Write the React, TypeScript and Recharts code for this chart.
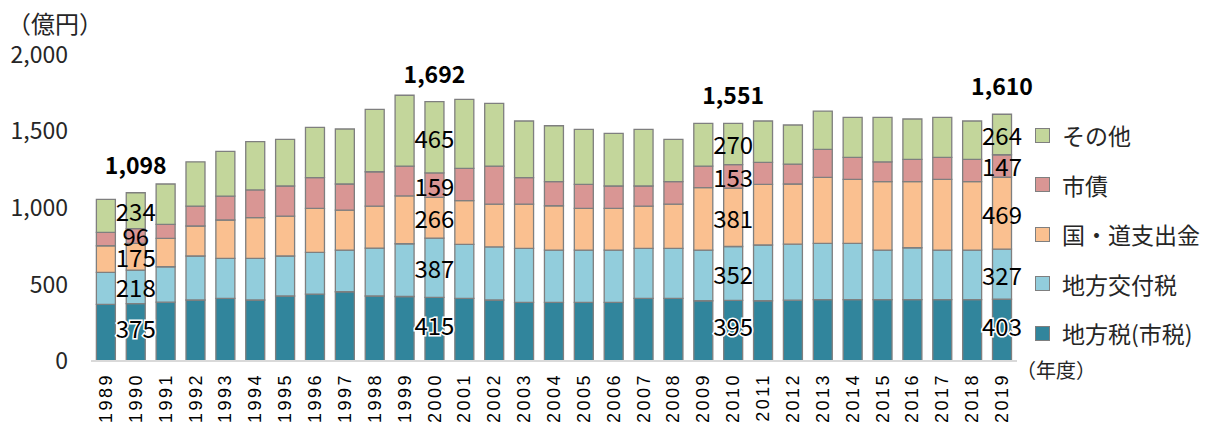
import { Bar, BarChart, LabelList, XAxis, YAxis } from "recharts";

const years = [
  "1989", "1990", "1991", "1992", "1993", "1994", "1995", "1996", "1997", "1998",
  "1999", "2000", "2001", "2002", "2003", "2004", "2005", "2006", "2007", "2008",
  "2009", "2010", "2011", "2012", "2013", "2014", "2015", "2016", "2017", "2018", "2019",
];

// 地方税(市税)
const localTax = [
  369, 375, 384, 398, 409, 398, 424, 437, 452, 424,
  421, 415, 409, 398, 382, 382, 382, 382, 409, 409,
  393, 395, 393, 397, 400, 400, 400, 400, 400, 400, 403,
];
// 地方交付税
const allocationTax = [
  209, 218, 231, 287, 261, 272, 261, 272, 272, 313,
  344, 387, 352, 347, 353, 342, 342, 342, 326, 326,
  331, 352, 364, 365, 367, 367, 324, 339, 324, 324, 327,
];
// 国・道支出金
const subsidies = [
  174, 175, 185, 196, 250, 265, 261, 287, 261, 274,
  312, 266, 285, 279, 289, 289, 272, 272, 276, 289,
  407, 381, 396, 393, 431, 418, 446, 431, 461, 446, 469,
];
// 市債
const bonds = [
  87, 96, 91, 130, 156, 181, 196, 200, 170, 224,
  195, 159, 211, 248, 172, 157, 157, 146, 131, 146,
  141, 153, 143, 130, 183, 144, 130, 146, 144, 146, 147,
];
// その他
const others = [
  216, 234, 264, 289, 292, 315, 304, 329, 359, 407,
  462, 465, 450, 409, 370, 365, 359, 343, 370, 276,
  279, 270, 270, 255, 250, 261, 290, 263, 261, 250, 264,
];

const labelYears = ["1990", "2000", "2010", "2019"];
const yTicks = [0, 500, 1000, 1500, 2000];

const series = [
  { key: "localTax", name: "地方税(市税)", color: "#31859C", values: localTax, halo: true },
  { key: "allocationTax", name: "地方交付税", color: "#92CDDC", values: allocationTax, halo: false },
  { key: "subsidies", name: "国・道支出金", color: "#FAC090", values: subsidies, halo: false },
  { key: "bonds", name: "市債", color: "#D99694", values: bonds, halo: false },
  { key: "others", name: "その他", color: "#C3D69B", values: others, halo: false },
];

const data = years.map((year, i) => ({
  year,
  localTax: localTax[i],
  allocationTax: allocationTax[i],
  subsidies: subsidies[i],
  bonds: bonds[i],
  others: others[i],
  total: localTax[i] + allocationTax[i] + subsidies[i] + bonds[i] + others[i],
}));

const FONT = "'Noto Sans CJK JP', 'Noto Sans', sans-serif";

function box(props: any) {
  const vb = props.viewBox || {};
  return {
    x: props.x ?? vb.x,
    y: props.y ?? vb.y,
    width: props.width ?? vb.width,
    height: props.height ?? vb.height,
  };
}

const segmentLabel = (values: number[], halo: boolean) => (props: any) => {
  const idx = props.index;
  if (!labelYears.includes(years[idx])) return null;
  const { x, y, width, height } = box(props);
  return (
    <text
      x={x + width / 2}
      y={y + height / 2 + (halo ? -5 : 0)}
      textAnchor="middle"
      dominantBaseline="central"
      fontFamily={FONT}
      fontSize={24}
      fill="#000"
      stroke={halo ? "#fff" : "none"}
      strokeWidth={halo ? 3 : 0}
      paintOrder="stroke"
    >
      {values[idx]}
    </text>
  );
};

const totalLabel = (props: any) => {
  const idx = props.index;
  if (!labelYears.includes(years[idx])) return null;
  const { x, y, width } = box(props);
  return (
    <text
      x={x + width / 2}
      y={y - 29}
      textAnchor="middle"
      dominantBaseline="central"
      fontFamily={FONT}
      fontSize={23}
      fontWeight="bold"
      fill="#000"
    >
      {data[idx].total.toLocaleString("en-US")}
    </text>
  );
};

const YearTick = (props: any) => {
  const { x, y, payload } = props;
  return (
    <text
      transform={`translate(${x},${y + 12}) rotate(-90)`}
      textAnchor="end"
      dy={6}
      fontFamily="'Liberation Sans', Arial, sans-serif"
      fontSize={18}
      letterSpacing={2.5}
      fill="#000"
    >
      {payload.value}
    </text>
  );
};

export default function App() {
  return (
    <div style={{ position: "fixed", left: 0, top: 0, width: 1205, height: 425, background: "#fff" }}>
      <BarChart
        width={1205}
        height={425}
        data={data}
        margin={{ top: 54.5, right: 188, bottom: 0, left: 0 }}
        barCategoryGap="18%"
      >
        <XAxis
          dataKey="year"
          interval={0}
          height={64}
          tickLine={false}
          tickSize={0}
          tickMargin={0}
          axisLine={{ stroke: "#d9d9d9", strokeWidth: 2 }}
          tick={<YearTick />}
        />
        <YAxis
          width={91}
          domain={[0, 2000]}
          ticks={yTicks}
          axisLine={false}
          tickLine={false}
          tickSize={0}
          tickMargin={23}
          tickFormatter={(v: number) => v.toLocaleString("en-US")}
          tick={{ fontFamily: FONT, fontSize: 23, fill: "#262626" }}
        />
        {series.map((s) => (
          <Bar
            key={s.key}
            dataKey={s.key}
            name={s.name}
            stackId="a"
            fill={s.color}
            stroke="#7f7f7f"
            strokeWidth={1.3}
            isAnimationActive={false}
          >
            <LabelList dataKey={s.key} content={segmentLabel(s.values, s.halo)} />
            {s.key === "others" && <LabelList dataKey="total" content={totalLabel} />}
          </Bar>
        ))}
      </BarChart>

      <div
        style={{
          position: "absolute",
          left: 7,
          top: 13,
          fontFamily: FONT,
          fontSize: 24,
          lineHeight: "20px",
          color: "#262626",
        }}
      >
        （億円）
      </div>
      <div
        style={{
          position: "absolute",
          left: 1016,
          top: 359,
          fontFamily: FONT,
          fontSize: 20,
          lineHeight: "22px",
          color: "#262626",
        }}
      >
        （年度）
      </div>

      {[...series].reverse().map((s, i) => (
        <div
          key={s.key}
          style={{
            position: "absolute",
            left: 1035,
            top: 135 + i * 49.6 - 15,
            height: 30,
            display: "flex",
            alignItems: "center",
            fontFamily: FONT,
            fontSize: 23,
            color: "#262626",
            whiteSpace: "nowrap",
          }}
        >
          <span
            style={{
              display: "inline-block",
              width: 15,
              height: 15,
              boxSizing: "border-box",
              background: s.color,
              border: "1.3px solid #7f7f7f",
              marginRight: 12,
            }}
          />
          {s.name}
        </div>
      ))}
    </div>
  );
}
